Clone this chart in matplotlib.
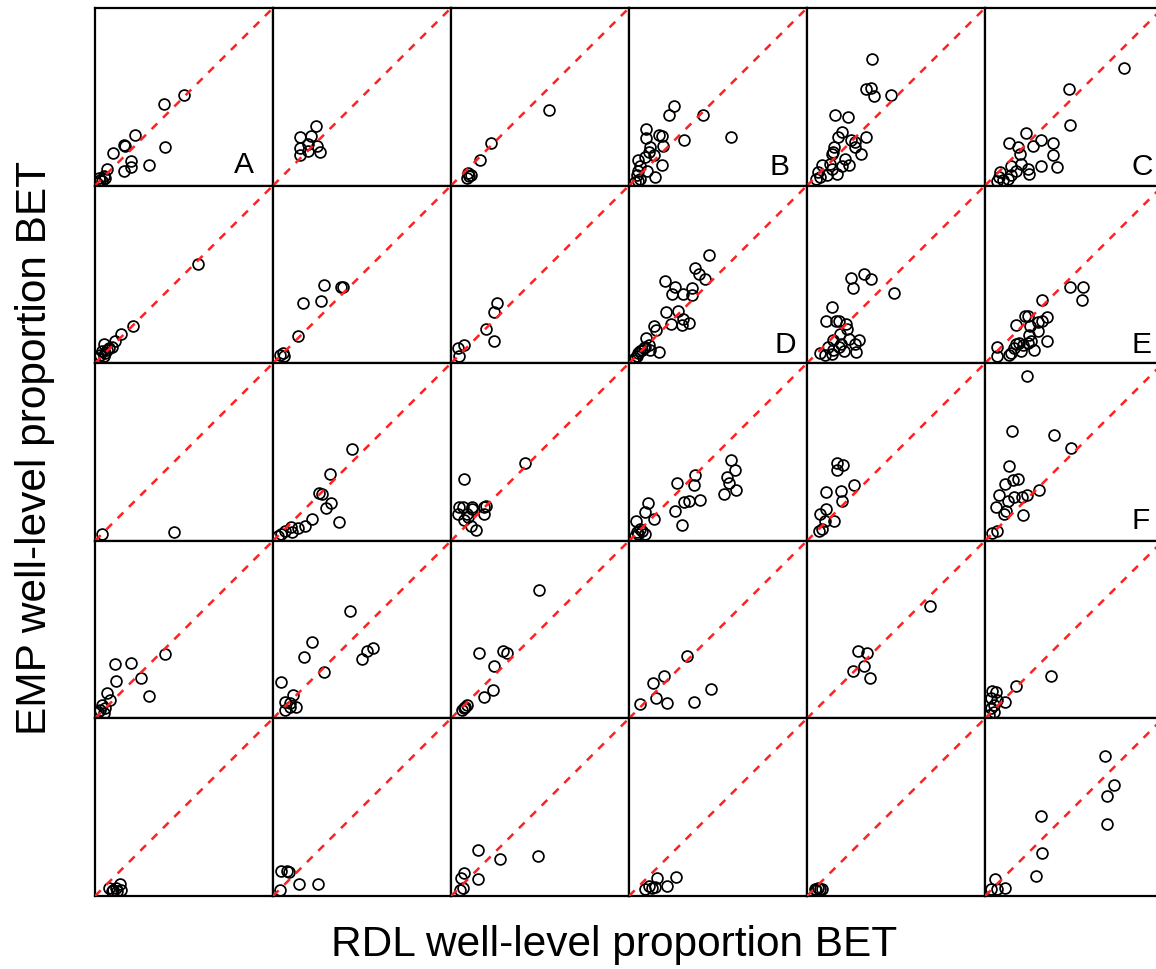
import matplotlib
matplotlib.use("Agg")
from matplotlib import pyplot as plt

plt.rcParams['font.family'] = ['Liberation Sans', 'DejaVu Sans']

# well-level proportion BET, RDL (x) vs EMP (y), one pair per panel
rdl_r1c1 = [0.50, 0.388, 0.223, 0.161, 0.168, 0.103, 0.393, 0.203, 0.200, 0.165, 0.306, 0.068, 0.048, 0.029, 0.039, 0.014, 0.058, 0.020]
emp_r1c1 = [0.508, 0.460, 0.284, 0.227, 0.222, 0.186, 0.220, 0.138, 0.106, 0.081, 0.114, 0.095, 0.053, 0.034, 0.025, 0.015, 0.044, 0.040]
rdl_r1c2 = [0.241, 0.151, 0.216, 0.197, 0.151, 0.245, 0.199, 0.266, 0.151]
emp_r1c2 = [0.333, 0.271, 0.280, 0.237, 0.214, 0.223, 0.195, 0.189, 0.172]
rdl_r1c3 = [0.551, 0.226, 0.164, 0.097, 0.100, 0.091, 0.110]
emp_r1c3 = [0.428, 0.242, 0.146, 0.072, 0.053, 0.044, 0.062]
rdl_r1c4 = [0.250, 0.225, 0.415, 0.571, 0.310, 0.097, 0.097, 0.168, 0.187, 0.192, 0.120, 0.110, 0.139, 0.091, 0.187, 0.050, 0.063, 0.101, 0.145, 0.053, 0.044, 0.063, 0.050, 0.034]
emp_r1c4 = [0.447, 0.398, 0.396, 0.274, 0.258, 0.321, 0.268, 0.283, 0.277, 0.223, 0.217, 0.189, 0.170, 0.160, 0.117, 0.142, 0.113, 0.085, 0.047, 0.085, 0.057, 0.038, 0.028, 0.019]
rdl_r1c5 = [0.363, 0.329, 0.357, 0.376, 0.471, 0.158, 0.230, 0.196, 0.173, 0.249, 0.329, 0.272, 0.304, 0.154, 0.143, 0.215, 0.234, 0.196, 0.129, 0.082, 0.167, 0.110, 0.063, 0.072, 0.053, 0.139, 0.272, 0.148]
emp_r1c5 = [0.711, 0.542, 0.551, 0.506, 0.509, 0.396, 0.387, 0.302, 0.274, 0.258, 0.274, 0.217, 0.179, 0.217, 0.179, 0.151, 0.117, 0.113, 0.123, 0.117, 0.066, 0.057, 0.075, 0.047, 0.038, 0.094, 0.245, 0.189]
rdl_r1c6 = [0.779, 0.470, 0.479, 0.228, 0.314, 0.380, 0.380, 0.133, 0.184, 0.270, 0.194, 0.314, 0.403, 0.241, 0.247, 0.200, 0.146, 0.175, 0.086, 0.080, 0.099, 0.127, 0.070, 0.146]
emp_r1c6 = [0.664, 0.543, 0.343, 0.296, 0.255, 0.240, 0.175, 0.240, 0.217, 0.223, 0.179, 0.113, 0.104, 0.094, 0.066, 0.123, 0.113, 0.085, 0.075, 0.047, 0.032, 0.038, 0.028, 0.057]

rdl_r2c1 = [0.581, 0.213, 0.145, 0.110, 0.048, 0.097, 0.068, 0.039, 0.029, 0.058, 0.019, 0.048, 0.078]
emp_r2c1 = [0.557, 0.211, 0.166, 0.123, 0.109, 0.094, 0.075, 0.066, 0.047, 0.057, 0.028, 0.038, 0.085]
rdl_r2c2 = [0.286, 0.382, 0.395, 0.168, 0.270, 0.141, 0.054, 0.064, 0.039]
emp_r2c2 = [0.440, 0.428, 0.428, 0.340, 0.349, 0.151, 0.057, 0.043, 0.047]
rdl_r2c3 = [0.259, 0.242, 0.197, 0.242, 0.075, 0.039, 0.043]
emp_r2c3 = [0.340, 0.287, 0.192, 0.126, 0.104, 0.085, 0.042]
rdl_r2c4 = [0.450, 0.371, 0.396, 0.425, 0.202, 0.259, 0.354, 0.244, 0.301, 0.352, 0.206, 0.276, 0.301, 0.339, 0.295, 0.234, 0.139, 0.154, 0.095, 0.168, 0.110, 0.082, 0.063, 0.053, 0.044, 0.034, 0.072, 0.091, 0.025, 0.120]
emp_r2c4 = [0.608, 0.534, 0.504, 0.472, 0.462, 0.430, 0.425, 0.392, 0.392, 0.383, 0.287, 0.296, 0.249, 0.226, 0.213, 0.223, 0.211, 0.189, 0.142, 0.064, 0.104, 0.085, 0.066, 0.057, 0.042, 0.028, 0.075, 0.094, 0.019, 0.075]
rdl_r2c5 = [0.321, 0.361, 0.249, 0.257, 0.490, 0.139, 0.105, 0.163, 0.181, 0.221, 0.224, 0.186, 0.144, 0.234, 0.291, 0.272, 0.190, 0.116, 0.148, 0.209, 0.274, 0.072, 0.101, 0.139, 0.177]
emp_r2c5 = [0.500, 0.472, 0.477, 0.425, 0.396, 0.315, 0.236, 0.240, 0.236, 0.221, 0.194, 0.164, 0.132, 0.136, 0.128, 0.108, 0.108, 0.089, 0.072, 0.066, 0.062, 0.057, 0.047, 0.053, 0.094]
rdl_r2c6 = [0.479, 0.551, 0.546, 0.323, 0.226, 0.241, 0.350, 0.175, 0.298, 0.321, 0.251, 0.298, 0.245, 0.350, 0.190, 0.241, 0.260, 0.213, 0.175, 0.165, 0.276, 0.203, 0.146, 0.065, 0.065, 0.137]
emp_r2c6 = [0.430, 0.430, 0.358, 0.358, 0.268, 0.268, 0.260, 0.217, 0.232, 0.236, 0.208, 0.179, 0.160, 0.126, 0.113, 0.113, 0.123, 0.104, 0.106, 0.085, 0.072, 0.066, 0.060, 0.094, 0.043, 0.047]

rdl_r3c1 = [0.039, 0.446]
emp_r3c1 = [0.038, 0.047]
rdl_r3c2 = [0.444, 0.320, 0.261, 0.276, 0.324, 0.299, 0.371, 0.218, 0.178, 0.139, 0.102, 0.106, 0.068, 0.044, 0.029]
emp_r3c2 = [0.519, 0.377, 0.270, 0.264, 0.213, 0.185, 0.106, 0.123, 0.081, 0.070, 0.075, 0.051, 0.057, 0.038, 0.028]
rdl_r3c3 = [0.414, 0.072, 0.043, 0.068, 0.116, 0.120, 0.188, 0.197, 0.039, 0.091, 0.188, 0.072, 0.097, 0.110, 0.143]
emp_r3c3 = [0.438, 0.349, 0.189, 0.189, 0.179, 0.189, 0.189, 0.194, 0.151, 0.151, 0.151, 0.117, 0.132, 0.085, 0.062]
rdl_r3c4 = [0.571, 0.596, 0.549, 0.564, 0.602, 0.533, 0.368, 0.364, 0.269, 0.400, 0.335, 0.310, 0.257, 0.295, 0.105, 0.088, 0.139, 0.040, 0.063, 0.044, 0.091, 0.053, 0.034, 0.072]
emp_r3c4 = [0.457, 0.400, 0.358, 0.326, 0.287, 0.264, 0.368, 0.315, 0.326, 0.232, 0.223, 0.219, 0.166, 0.091, 0.211, 0.164, 0.123, 0.113, 0.066, 0.047, 0.038, 0.038, 0.028, 0.057]
rdl_r3c5 = [0.167, 0.200, 0.167, 0.262, 0.106, 0.190, 0.196, 0.106, 0.072, 0.152, 0.101, 0.082, 0.068]
emp_r3c5 = [0.438, 0.428, 0.396, 0.317, 0.274, 0.283, 0.226, 0.179, 0.151, 0.113, 0.113, 0.066, 0.053]
rdl_r3c6 = [0.236, 0.150, 0.388, 0.485, 0.137, 0.184, 0.160, 0.112, 0.302, 0.236, 0.207, 0.165, 0.080, 0.127, 0.061, 0.118, 0.108, 0.213, 0.070, 0.042]
emp_r3c6 = [0.928, 0.619, 0.598, 0.525, 0.421, 0.349, 0.340, 0.321, 0.287, 0.260, 0.249, 0.245, 0.260, 0.226, 0.192, 0.170, 0.151, 0.145, 0.057, 0.043]

rdl_r4c1 = [0.391, 0.110, 0.200, 0.116, 0.256, 0.306, 0.068, 0.087, 0.039, 0.058, 0.029, 0.048, 0.019]
emp_r4c1 = [0.362, 0.309, 0.310, 0.210, 0.229, 0.124, 0.143, 0.105, 0.076, 0.057, 0.048, 0.029, 0.038]
rdl_r4c2 = [0.434, 0.218, 0.174, 0.284, 0.502, 0.527, 0.560, 0.044, 0.112, 0.068, 0.093, 0.131, 0.068, 0.097]
emp_r4c2 = [0.604, 0.429, 0.347, 0.263, 0.333, 0.377, 0.396, 0.206, 0.133, 0.095, 0.086, 0.063, 0.048, 0.067]
rdl_r4c3 = [0.493, 0.159, 0.294, 0.317, 0.240, 0.236, 0.188, 0.081, 0.072, 0.062, 0.091]
emp_r4c3 = [0.724, 0.371, 0.381, 0.371, 0.295, 0.158, 0.120, 0.067, 0.057, 0.048, 0.076]
rdl_r4c4 = [0.326, 0.196, 0.133, 0.463, 0.152, 0.211, 0.364, 0.059]
emp_r4c4 = [0.350, 0.237, 0.199, 0.167, 0.117, 0.089, 0.095, 0.080]
rdl_r4c5 = [0.690, 0.285, 0.338, 0.323, 0.259, 0.354]
emp_r4c5 = [0.634, 0.379, 0.369, 0.294, 0.265, 0.227]
rdl_r4c6 = [0.369, 0.175, 0.114, 0.038, 0.061, 0.067, 0.032, 0.051, 0.032, 0.048, 0.023]
emp_r4c6 = [0.237, 0.180, 0.091, 0.155, 0.146, 0.104, 0.114, 0.076, 0.057, 0.034, 0.019]

rdl_r5c1 = [0.078, 0.103, 0.141, 0.145, 0.116, 0.097, 0.126]
emp_r5c1 = [0.047, 0.036, 0.065, 0.032, 0.046, 0.028, 0.028]
rdl_r5c2 = [0.044, 0.081, 0.091, 0.145, 0.251, 0.039]
emp_r5c2 = [0.140, 0.140, 0.133, 0.070, 0.070, 0.032]
rdl_r5c3 = [0.149, 0.275, 0.491, 0.072, 0.056, 0.149, 0.068, 0.052]
emp_r5c3 = [0.260, 0.209, 0.228, 0.131, 0.099, 0.095, 0.047, 0.032]
rdl_r5c4 = [0.263, 0.158, 0.211, 0.145, 0.110, 0.088, 0.128]
emp_r5c4 = [0.108, 0.104, 0.055, 0.051, 0.055, 0.042, 0.045]
rdl_r5c5 = [0.044, 0.063, 0.082, 0.053, 0.072]
emp_r5c5 = [0.042, 0.045, 0.038, 0.032, 0.040]
rdl_r5c6 = [0.673, 0.726, 0.688, 0.683, 0.317, 0.323, 0.289, 0.057, 0.114, 0.067, 0.036]
emp_r5c6 = [0.791, 0.626, 0.564, 0.406, 0.453, 0.240, 0.111, 0.098, 0.045, 0.042, 0.042]

# panel letters: (row, col) -> (letter, x, y) in data units
tags = {
    (0, 0): ("A", 0.837, 0.072),
    (0, 3): ("B", 0.844, 0.062),
    (0, 5): ("C", 0.882, 0.062),
    (1, 3): ("D", 0.876, 0.057),
    (1, 5): ("E", 0.882, 0.057),
    (2, 5): ("F", 0.876, 0.066),
}

panels = [
    [(rdl_r1c1, emp_r1c1), (rdl_r1c2, emp_r1c2), (rdl_r1c3, emp_r1c3), (rdl_r1c4, emp_r1c4), (rdl_r1c5, emp_r1c5), (rdl_r1c6, emp_r1c6)],
    [(rdl_r2c1, emp_r2c1), (rdl_r2c2, emp_r2c2), (rdl_r2c3, emp_r2c3), (rdl_r2c4, emp_r2c4), (rdl_r2c5, emp_r2c5), (rdl_r2c6, emp_r2c6)],
    [(rdl_r3c1, emp_r3c1), (rdl_r3c2, emp_r3c2), (rdl_r3c3, emp_r3c3), (rdl_r3c4, emp_r3c4), (rdl_r3c5, emp_r3c5), (rdl_r3c6, emp_r3c6)],
    [(rdl_r4c1, emp_r4c1), (rdl_r4c2, emp_r4c2), (rdl_r4c3, emp_r4c3), (rdl_r4c4, emp_r4c4), (rdl_r4c5, emp_r4c5), (rdl_r4c6, emp_r4c6)],
    [(rdl_r5c1, emp_r5c1), (rdl_r5c2, emp_r5c2), (rdl_r5c3, emp_r5c3), (rdl_r5c4, emp_r5c4), (rdl_r5c5, emp_r5c5), (rdl_r5c6, emp_r5c6)],
]

W, H = 1156, 969
fig = plt.figure(figsize=(W / 100, H / 100), dpi=100)

# grid geometry in pixels (last column runs past the right edge)
x0, y0 = 95, 8
pw, ph = 178, 177.6

for i, row in enumerate(panels):
    for j, (xs, ys) in enumerate(row):
        left = x0 + j * pw
        top = y0 + i * ph
        ax = fig.add_axes([left / W, 1 - (top + ph) / H, pw / W, ph / H])
        ax.plot(xs, ys, linestyle="none", marker="o", markersize=7.8,
                markerfacecolor="none", markeredgecolor="black",
                markeredgewidth=1.25, zorder=2)
        ax.plot([0, 1], [0, 1], color="#ff2020", linewidth=1.8,
                linestyle=(0, (3.2, 3.2)), zorder=3)
        ax.set_xlim(0, 1)
        ax.set_ylim(0, 1)
        ax.set_xticks([])
        ax.set_yticks([])
        for s in ax.spines.values():
            s.set_linewidth(1.6)
            s.set_color("black")
        if (i, j) in tags:
            letter, tx, ty = tags[(i, j)]
            ax.text(tx, ty, letter, fontsize=21.5, ha="center", va="baseline")

fig.text(614 / W, 1 - 945 / H, "RDL well-level proportion BET", fontsize=30.5,
         ha="center", va="center")
fig.text(35 / W, 1 - 448 / H, "EMP well-level proportion BET", fontsize=30.5,
         ha="center", va="center", rotation=90)

fig.savefig("out.png", dpi=100)
